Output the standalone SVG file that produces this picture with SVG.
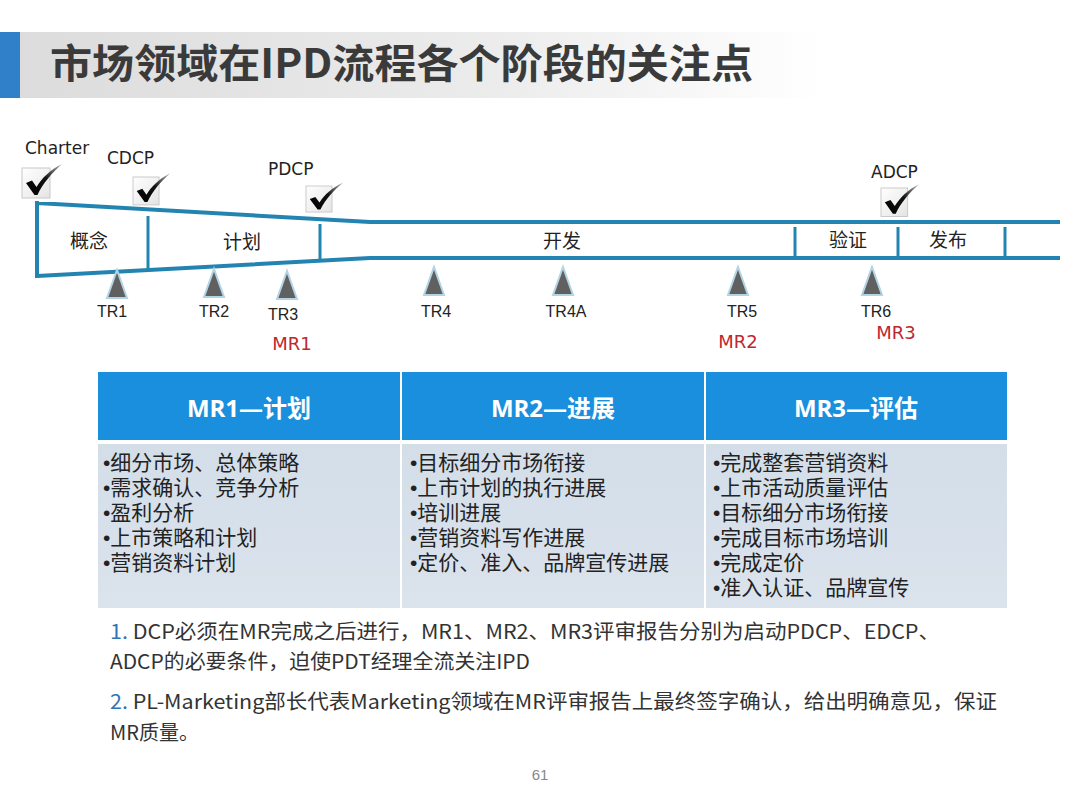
<svg xmlns="http://www.w3.org/2000/svg" width="1080" height="810" viewBox="0 0 1080 810">
<defs>
<linearGradient id="band" x1="0" y1="0" x2="1" y2="0">
<stop offset="0" stop-color="#dcdcdc"/>
<stop offset="0.6" stop-color="#ececec"/>
<stop offset="1" stop-color="#ffffff"/>
</linearGradient>
<linearGradient id="body" x1="0" y1="0" x2="0" y2="1">
<stop offset="0" stop-color="#d3dee9"/>
<stop offset="1" stop-color="#dbe3ec"/>
</linearGradient>
<linearGradient id="boxg" x1="0" y1="0" x2="1" y2="1">
<stop offset="0" stop-color="#ffffff"/>
<stop offset="1" stop-color="#e4e4e4"/>
</linearGradient>
<linearGradient id="tickg" x1="0" y1="1" x2="1" y2="0">
<stop offset="0" stop-color="#000"/>
<stop offset="0.55" stop-color="#111"/>
<stop offset="1" stop-color="#bbb"/>
</linearGradient>
<g id="check">
<rect x="0" y="0" width="28" height="30" fill="url(#boxg)" stroke="#c8c8c8" stroke-width="1"/>
<path d="M4,15 L10,12.5 L14.5,19 C20,10 28,2 40,-4 C30,5 21,15 15.5,27 L12.5,27 Z" fill="url(#tickg)"/>
</g>
<path id="tri" d="M0,0 L10,28 L-10,28 Z"/>
</defs>
<style>
.title{font-family:"Noto Sans CJK SC","Liberation Sans",sans-serif;font-weight:bold;font-size:40px;fill:#3a3a3a}
.lbl{font-family:"DejaVu Sans","Liberation Sans",sans-serif;font-size:17px;fill:#222}
.phase{font-family:"Noto Sans CJK SC",sans-serif;font-size:19px;fill:#222}
.tr{font-family:"Liberation Sans Narrow","Liberation Sans",sans-serif;font-size:16px;fill:#222}
.mr{font-family:"DejaVu Sans","Liberation Sans",sans-serif;font-size:18px;fill:#c0272d}
.hd{font-family:"Open Sans","Noto Sans CJK SC",sans-serif;font-weight:bold;font-size:24px;fill:#fff}
.bd{font-family:"Noto Sans CJK SC",sans-serif;font-size:21px;fill:#222}
.bu{font-family:"Liberation Sans",sans-serif}
.nt{font-family:"Noto Sans CJK SC",sans-serif;font-size:20px;fill:#333}
.num{fill:#2e75b6}
.fun{fill:none;stroke:#2384b1;stroke-width:4}
.div{stroke:#2384b1;stroke-width:3}
.trig{fill:#606060;stroke:#b3d4e4;stroke-width:2}
</style>

<g id="title">
<rect x="20" y="32" width="800" height="66" fill="url(#band)"/>
<rect x="0" y="32" width="20" height="66" fill="#2f7fc9"/>
<text class="title" x="50" y="78" textLength="703" lengthAdjust="spacingAndGlyphs">市场领域在IPD流程各个阶段的关注点</text>
</g>

<g id="funnel">
<path class="fun" d="M37,203 L370,222 L1060,222 M37,276 L370,258 L1060,258 M37,201 V278"/>
<line class="div" x1="148" y1="216" x2="148" y2="270"/>
<line class="div" x1="320" y1="224" x2="320" y2="261"/>
<line class="div" x1="795" y1="227" x2="795" y2="258"/>
<line class="div" x1="898" y1="227" x2="898" y2="258"/>
<line class="div" x1="1005" y1="227" x2="1005" y2="258"/>
<text class="phase" x="89" y="248" text-anchor="middle">概念</text>
<text class="phase" x="242" y="249" text-anchor="middle">计划</text>
<text class="phase" x="562" y="248" text-anchor="middle">开发</text>
<text class="phase" x="848" y="247" text-anchor="middle">验证</text>
<text class="phase" x="948" y="247" text-anchor="middle">发布</text>
</g>

<g id="decision-points">
<text class="lbl" x="25" y="154">Charter</text>
<use href="#check" x="22" y="168"/>
<text class="lbl" x="107" y="164">CDCP</text>
<use href="#check" transform="translate(133,177) scale(0.93)"/>
<text class="lbl" x="268" y="175">PDCP</text>
<use href="#check" transform="translate(306,186) scale(0.93,0.87)"/>
<text class="lbl" x="871" y="178">ADCP</text>
<use href="#check" transform="translate(881,188) scale(0.95)"/>
</g>

<g id="tech-reviews">
<use href="#tri" class="trig" x="117" y="270"/>
<use href="#tri" class="trig" x="214" y="269"/>
<use href="#tri" class="trig" x="287" y="271"/>
<use href="#tri" class="trig" x="434" y="267"/>
<use href="#tri" class="trig" x="563" y="267"/>
<use href="#tri" class="trig" x="738" y="267"/>
<use href="#tri" class="trig" x="872" y="267"/>
<text class="tr" x="112" y="317" text-anchor="middle">TR1</text>
<text class="tr" x="214" y="317" text-anchor="middle">TR2</text>
<text class="tr" x="283" y="320" text-anchor="middle">TR3</text>
<text class="tr" x="436" y="317" text-anchor="middle">TR4</text>
<text class="tr" x="566" y="317" text-anchor="middle">TR4A</text>
<text class="tr" x="742" y="317" text-anchor="middle">TR5</text>
<text class="tr" x="876" y="317" text-anchor="middle">TR6</text>
<text class="mr" x="292" y="350" text-anchor="middle">MR1</text>
<text class="mr" x="738" y="348" text-anchor="middle">MR2</text>
<text class="mr" x="896" y="339" text-anchor="middle">MR3</text>
</g>

<g id="table">
<rect x="98" y="372" width="909" height="68" fill="#1a8fdd"/>
<rect x="98" y="444" width="909" height="164" fill="url(#body)"/>
<line x1="401" y1="372" x2="401" y2="608" stroke="#fff" stroke-width="2"/>
<line x1="705" y1="372" x2="705" y2="608" stroke="#fff" stroke-width="2"/>
<text class="hd" x="249" y="417" text-anchor="middle">MR1—计划</text>
<text class="hd" x="553" y="417" text-anchor="middle">MR2—进展</text>
<text class="hd" x="856" y="417" text-anchor="middle">MR3—评估</text>
<text class="bd" x="103" y="470"><tspan class="bu">•</tspan>细分市场、总体策略<tspan x="103" dy="25" class="bu">•</tspan>需求确认、竞争分析<tspan x="103" dy="25" class="bu">•</tspan>盈利分析<tspan x="103" dy="25" class="bu">•</tspan>上市策略和计划<tspan x="103" dy="25" class="bu">•</tspan>营销资料计划</text>
<text class="bd" x="410" y="470"><tspan class="bu">•</tspan>目标细分市场衔接<tspan x="410" dy="25" class="bu">•</tspan>上市计划的执行进展<tspan x="410" dy="25" class="bu">•</tspan>培训进展<tspan x="410" dy="25" class="bu">•</tspan>营销资料写作进展<tspan x="410" dy="25" class="bu">•</tspan>定价、准入、品牌宣传进展</text>
<text class="bd" x="713" y="470"><tspan class="bu">•</tspan>完成整套营销资料<tspan x="713" dy="25" class="bu">•</tspan>上市活动质量评估<tspan x="713" dy="25" class="bu">•</tspan>目标细分市场衔接<tspan x="713" dy="25" class="bu">•</tspan>完成目标市场培训<tspan x="713" dy="25" class="bu">•</tspan>完成定价<tspan x="713" dy="25" class="bu">•</tspan>准入认证、品牌宣传</text>
</g>

<g id="notes">
<text class="nt" x="110" y="639" textLength="830" lengthAdjust="spacingAndGlyphs"><tspan class="num">1.</tspan> DCP必须在MR完成之后进行，MR1、MR2、MR3评审报告分别为启动PDCP、EDCP、</text>
<text class="nt" x="110" y="669" textLength="420" lengthAdjust="spacingAndGlyphs">ADCP的必要条件，迫使PDT经理全流关注IPD</text>
<text class="nt" x="110" y="709" textLength="887" lengthAdjust="spacingAndGlyphs"><tspan class="num">2.</tspan> PL-Marketing部长代表Marketing领域在MR评审报告上最终签字确认，给出明确意见，保证</text>
<text class="nt" x="110" y="740">MR质量。</text>
<text x="540" y="780" text-anchor="middle" font-family="Liberation Sans Narrow, Liberation Sans, sans-serif" font-size="15" fill="#888">61</text>
</g>
</svg>
